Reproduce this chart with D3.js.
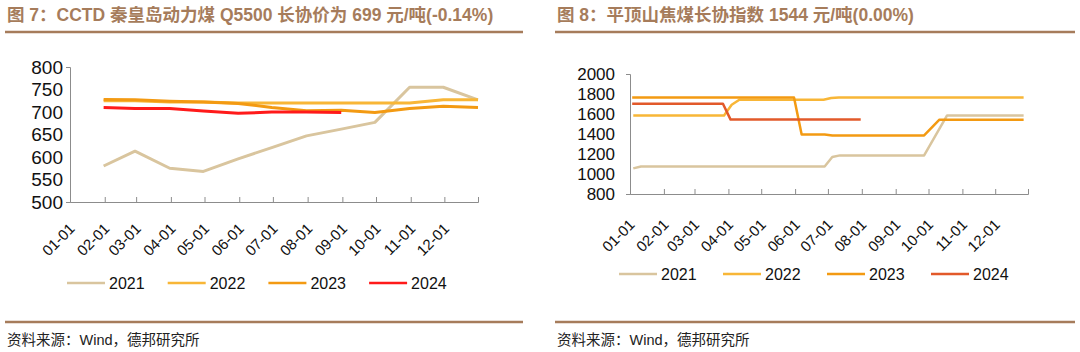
<!DOCTYPE html>
<html>
<head>
<meta charset="utf-8">
<script src="https://cdn.jsdelivr.net/npm/d3@7"></script>
<style>
  body { margin: 0; background: #fff; }
  svg { display: block; font-family: "Liberation Sans", Arial, "Noto Sans CJK SC", sans-serif; }
</style>
</head>
<body>
<svg id="chart" width="1080" height="352"></svg>
<script>
// ---- data ----
const years = ["2021", "2022", "2023", "2024"];
const monthLabels = ["01-01","02-01","03-01","04-01","05-01","06-01","07-01","08-01","09-01","10-01","11-01","12-01"];

// fig 7: CCTD Qinhuangdao Q5500 long-term price, month-end values
const cctdDates = ["01-31","02-28","03-31","04-30","05-31","06-30","07-31","08-31","09-30","10-31","11-30","12-31"];
const cctd2021 = [580, 613, 575, 568, 596, 621, 647, 662, 677, 755, 755, 727];
const cctd2022 = [725, 725, 722, 722, 720, 720, 720, 720, 720, 720, 727, 727];
const cctd2023 = [728, 727, 724, 722, 719, 710, 703, 704, 699, 708, 713, 710];
const cctd2024 = [710, 708, 708, 702, 697, 700, 700, 699];
const cctdTicks = [500, 550, 600, 650, 700, 750, 800];

// fig 8: Pingdingshan coking coal long-term index
const pds2021Dates = ["01-04","01-11","06-28","07-05","07-12","09-27","10-18","12-27"];
const pds2021 = [1056, 1075, 1075, 1170, 1186, 1186, 1586, 1586];
const pds2022Dates = ["01-04","03-28","04-04","04-11","06-27","07-04","07-11","12-27"];
const pds2022 = [1586, 1586, 1693, 1743, 1743, 1760, 1766, 1766];
const pds2023Dates = ["01-03","05-31","06-07","06-28","07-05","09-27","10-11","12-27"];
const pds2023 = [1766, 1766, 1396, 1396, 1386, 1386, 1543, 1543];
const pds2024Dates = ["01-03","03-27","04-03","07-31"];
const pds2024 = [1703, 1703, 1544, 1544];
const pdsTicks = [800, 1000, 1200, 1400, 1600, 1800, 2000];

const brown = "#A67C5B";
const colorsLeft = ["#D9C59E", "#F8B637", "#F39A12", "#FF1A1A"];
const colorsRight = ["#D9C59E", "#F8B637", "#F39A12", "#E2592A"];

const parseMD = d3.timeParse("%Y-%m-%d");
const md = s => parseMD("2021-" + s);

const svg = d3.select("#chart");

function drawPanel(opt) {
  const g = svg.append("g");

  // title + rules
  g.append("text")
    .attr("x", opt.left).attr("y", 21)
    .attr("fill", brown)
    .style("font-size", "17.5px").style("font-weight", "bold")
    .text(opt.title);
  g.append("line")
    .attr("x1", opt.left - 2).attr("x2", opt.right)
    .attr("y1", 32).attr("y2", 32)
    .attr("stroke", brown).attr("stroke-width", 2.5);
  g.append("line")
    .attr("x1", opt.left - 2).attr("x2", opt.right)
    .attr("y1", 322).attr("y2", 322)
    .attr("stroke", brown).attr("stroke-width", 2.5);
  g.append("text")
    .attr("x", opt.left).attr("y", 345)
    .attr("fill", "#222")
    .style("font-size", "14.5px")
    .text("资料来源：Wind，德邦研究所");

  const x = d3.scaleTime()
    .domain([md("01-01"), md("12-31")])
    .range([opt.x0, opt.x1]);
  const y = d3.scaleLinear()
    .domain(opt.yDomain)
    .range([opt.yBottom, opt.yTop]);

  // y axis
  const yAxis = g.append("g")
    .attr("transform", `translate(${opt.x0},0)`)
    .call(d3.axisLeft(y).tickValues(opt.yTicks).tickFormat(d3.format("d"))
      .tickSizeInner(0).tickSizeOuter(4).tickPadding(opt.yPad));
  yAxis.select(".domain").attr("stroke", "#8c8c8c");
  yAxis.selectAll("text").attr("fill", "#111").style("font-size", opt.yFont);

  // x axis, ticks pointing up
  const xAxis = g.append("g")
    .attr("transform", `translate(0,${opt.yBottom})`)
    .call(d3.axisBottom(x)
      .tickValues(monthLabels.map(md).concat([md("12-31")]))
      .tickSizeInner(-5).tickSizeOuter(-5)
      .tickFormat(""));
  xAxis.selectAll("line, path").attr("stroke", "#8c8c8c");

  g.selectAll(null)
    .data(monthLabels)
    .enter()
    .append("text")
    .attr("transform", d => `translate(${x(md(d)) + 2},${opt.yBottom + opt.labelDrop}) rotate(-45)`)
    .attr("text-anchor", "end")
    .attr("dy", "0.35em")
    .attr("fill", "#111")
    .style("font-size", "15px")
    .text(d => d);

  // lines
  const line = d3.line()
    .x(d => x(d[0]))
    .y(d => y(d[1]));
  opt.series.forEach(function(s, i) {
    const pts = s.values.map((v, j) => [md(s.dates[j]), v]);
    g.append("path")
      .datum(pts)
      .attr("d", line)
      .attr("fill", "none")
      .attr("stroke", opt.colors[i])
      .attr("stroke-width", opt.lw)
      .attr("stroke-linejoin", "round");
  });

  // legend
  const legend = g.append("g")
    .attr("transform", `translate(${opt.legendX},${opt.legendY})`);
  const item = legend.selectAll(null)
    .data(years)
    .enter()
    .append("g")
    .attr("transform", (d, i) => `translate(${i * opt.legendStep},0)`);
  item.append("line")
    .attr("x1", 0).attr("x2", 38)
    .attr("stroke", (d, i) => opt.colors[i])
    .attr("stroke-width", 2.5);
  item.append("text")
    .attr("x", 42).attr("dy", "0.36em")
    .attr("fill", "#111")
    .style("font-size", "16px")
    .text(d => d);
}

drawPanel({
  title: "图 7：CCTD 秦皇岛动力煤 Q5500 长协价为 699 元/吨(-0.14%)",
  left: 7, right: 523,
  x0: 70, x1: 478, yTop: 67, yBottom: 202,
  yDomain: [500, 800], yTicks: cctdTicks, yPad: 7, yFont: "19px", labelDrop: 24,
  colors: colorsLeft, lw: 3,
  series: [
    { dates: cctdDates, values: cctd2021 },
    { dates: cctdDates, values: cctd2022 },
    { dates: cctdDates, values: cctd2023 },
    { dates: cctdDates, values: cctd2024 }
  ],
  legendX: 67, legendY: 283, legendStep: 100.7
});

drawPanel({
  title: "图 8：平顶山焦煤长协指数 1544 元/吨(0.00%)",
  left: 557, right: 1075,
  x0: 630, x1: 1028, yTop: 74, yBottom: 194,
  yDomain: [800, 2000], yTicks: pdsTicks, yPad: 15, yFont: "17px", labelDrop: 28,
  colors: colorsRight, lw: 2.5,
  series: [
    { dates: pds2021Dates, values: pds2021 },
    { dates: pds2022Dates, values: pds2022 },
    { dates: pds2023Dates, values: pds2023 },
    { dates: pds2024Dates, values: pds2024 }
  ],
  legendX: 619, legendY: 274, legendStep: 104
});
</script>
</body>
</html>
